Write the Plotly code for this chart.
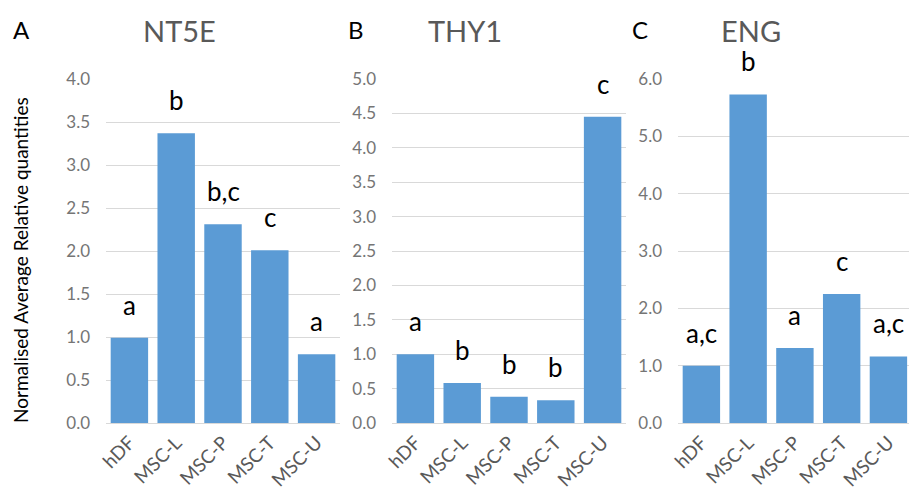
import plotly.graph_objects as go

categories = ["hDF", "MSC-L", "MSC-P", "MSC-T", "MSC-U"]

nt5e_values = [0.99, 3.37, 2.31, 2.01, 0.80]
nt5e_labels = ["a", "b", "b,c", "c", "a"]

thy1_values = [1.00, 0.58, 0.38, 0.33, 4.45]
thy1_labels = ["a", "b", "b", "b", "c"]

eng_values = [1.00, 5.73, 1.31, 2.25, 1.16]
eng_labels = ["a,c", "b", "a", "c", "a,c"]

panel_titles = ["NT5E", "THY1", "ENG"]
panel_letters = ["A", "B", "C"]
y_title = "Normalised Average Relative quantities"

W, H = 909, 494
BAR = "#5B9BD5"
GRID = "#D9D9D9"
YTICK = "#757575"
XTICK = "#595959"
FONT = "Lato"

panels = [
    dict(vals=nt5e_values, labs=nt5e_labels, ymax=4.0, dtick=0.5,
         dom=(106, 340), xr=[-0.5, 4.5], title_x=179, letter_x=21),
    dict(vals=thy1_values, labs=thy1_labels, ymax=5.0, dtick=0.5,
         dom=(392, 626), xr=[-0.5, 4.5], title_x=465, letter_x=356),
    dict(vals=eng_values, labs=eng_labels, ymax=6.0, dtick=1.0,
         dom=(678, 909), xr=[-0.5, 4.44], title_x=751, letter_x=640),
]

y0 = (H - 423) / H
y1 = (H - 79) / H

fig = go.Figure()
annotations = []
layout = {}
for i, p in enumerate(panels):
    n = "" if i == 0 else str(i + 1)
    fig.add_trace(go.Bar(
        x=categories, y=p["vals"], marker_color=BAR, marker_line_width=0,
        xaxis="x" + n, yaxis="y" + n, showlegend=False,
    ))
    layout["xaxis" + n] = dict(
        domain=[p["dom"][0] / W, p["dom"][1] / W], anchor="y" + n,
        range=p["xr"], tickangle=-45, showgrid=False, zeroline=False,
        showline=False, ticks="", automargin=False, ticklabelstandoff=4,
        tickfont=dict(family=FONT, size=19, color=XTICK),
        fixedrange=True,
    )
    layout["yaxis" + n] = dict(
        domain=[y0, y1], anchor="x" + n, range=[0, p["ymax"]], dtick=p["dtick"],
        tickformat=".1f", showgrid=True, gridcolor=GRID, gridwidth=1.3,
        zeroline=True, zerolinecolor=GRID, zerolinewidth=1.3, showline=False,
        ticks="", ticklabelstandoff=15, automargin=False,
        tickfont=dict(family=FONT, size=17, color=YTICK),
    )
    for c, v, lab in zip(categories, p["vals"], p["labs"]):
        annotations.append(dict(
            x=c, y=v, xref="x" + n, yref="y" + n, text=lab, showarrow=False,
            yanchor="bottom", yshift=15, font=dict(family=FONT, size=26, color="#000"),
        ))
    annotations.append(dict(
        x=p["title_x"] / W, y=(H - 30) / H, xref="paper", yref="paper",
        text=panel_titles[i], showarrow=False, xanchor="center", yanchor="middle",
        font=dict(family=FONT, size=29, color="#595959"),
    ))
    annotations.append(dict(
        x=p["letter_x"] / W, y=(H - 29) / H, xref="paper", yref="paper",
        text=panel_letters[i], showarrow=False, xanchor="center", yanchor="middle",
        font=dict(family=FONT, size=24, color="#000"),
    ))

annotations.append(dict(
    x=20 / W, y=(H - 260) / H, xref="paper", yref="paper", text=y_title,
    showarrow=False, textangle=-90, xanchor="center", yanchor="middle",
    font=dict(family=FONT, size=19, color="#000"),
))

fig.update_layout(
    width=W, height=H, margin=dict(l=0, r=0, t=0, b=0),
    paper_bgcolor="white", plot_bgcolor="white",
    bargap=0.2, annotations=annotations, **layout,
)

fig.write_html("out.html")
